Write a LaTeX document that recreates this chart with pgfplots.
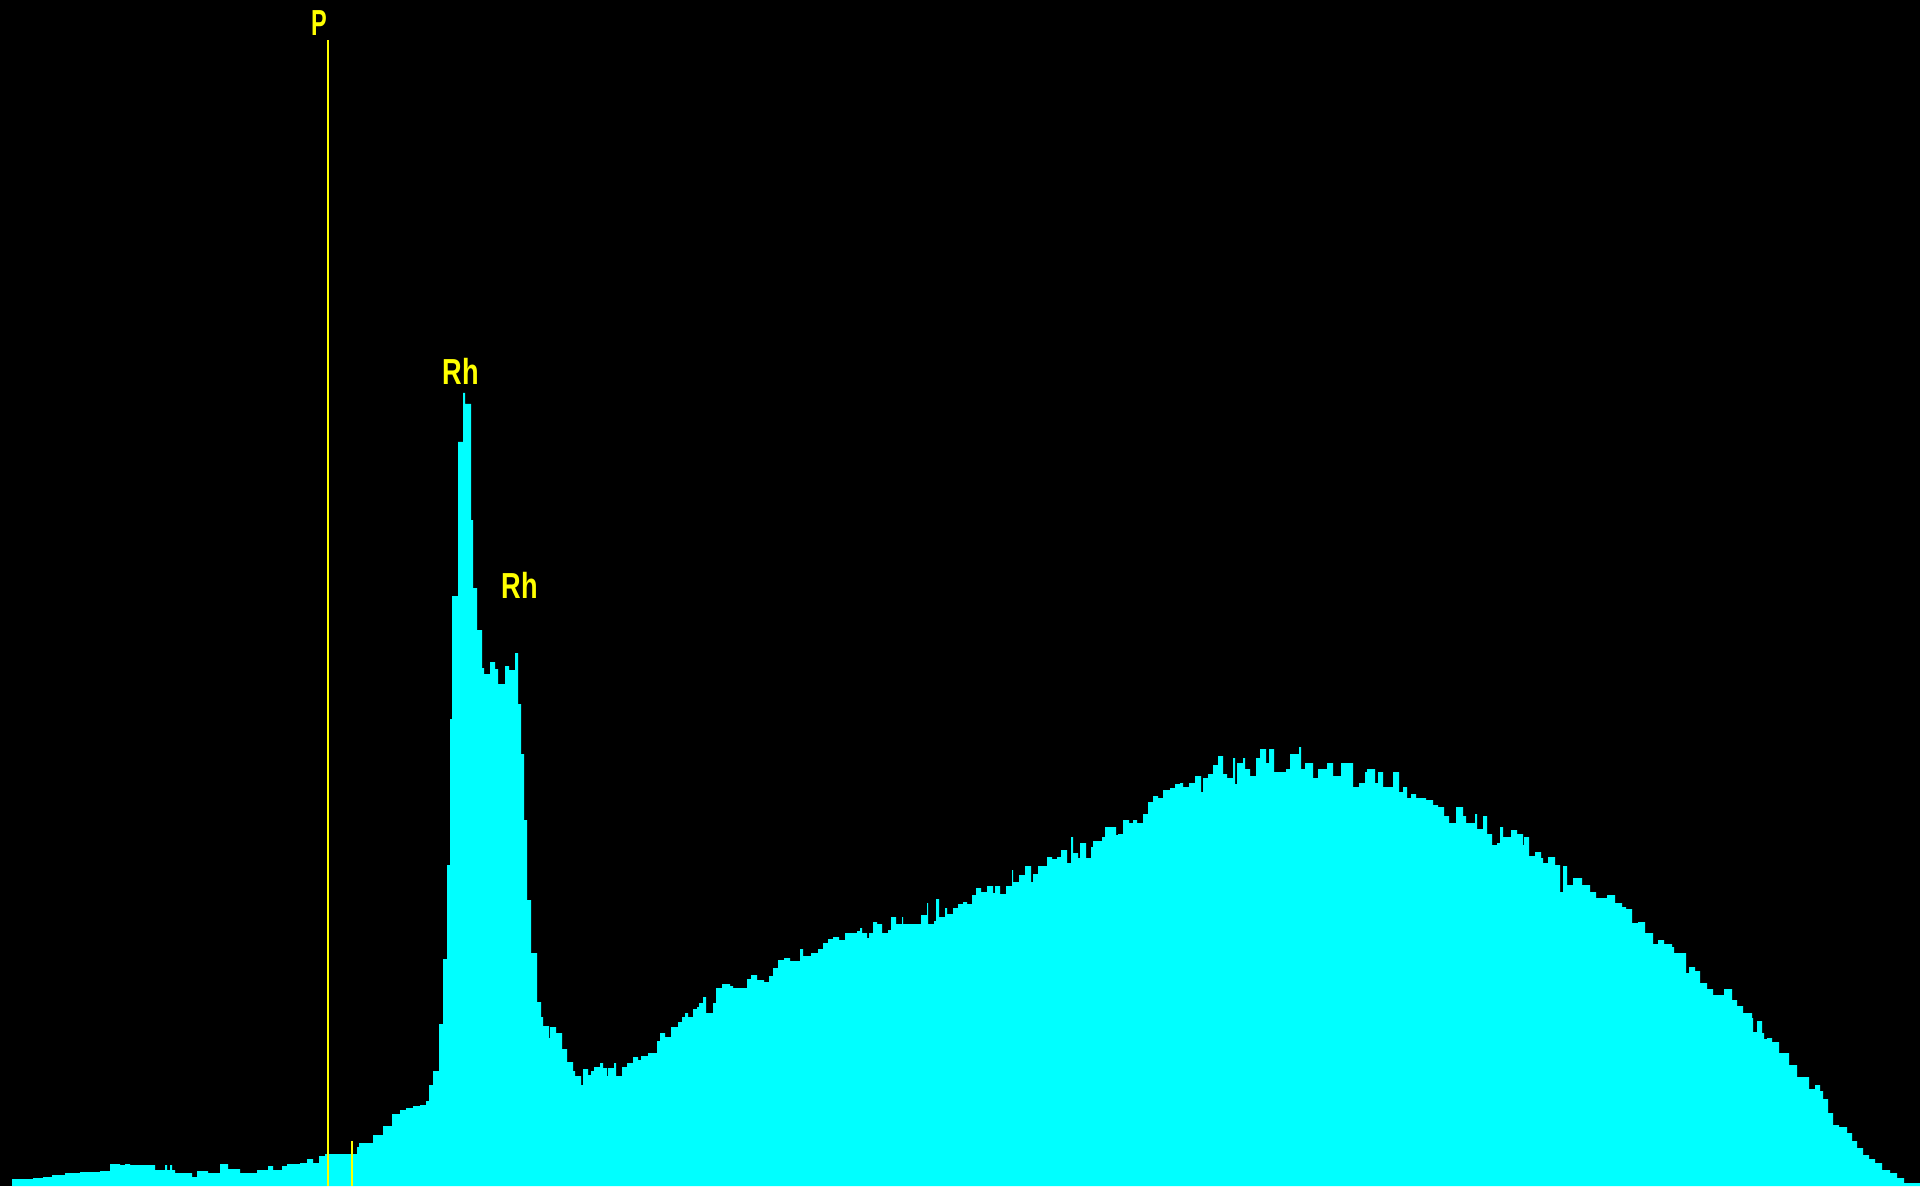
\documentclass[border=0pt]{standalone}
\usepackage{graphicx}
\usepackage{fontspec}
\setmainfont{Liberation Sans}
\usepackage{pgfplots}
\pgfplotsset{compat=1.18}

\definecolor{specfill}{rgb}{0,1,1}
\definecolor{marker}{rgb}{1,1,0}

\begin{document}
\begin{tikzpicture}
\begin{axis}[
  width=19.2cm, height=11.86cm, scale only axis,
  xmin=0, xmax=1920, ymin=0, ymax=1186,
  ticks=none,
  axis line style={draw=none},
  axis background/.style={fill=black},
  clip=true,
]
% spectrum (channel, counts), drawn as a filled step histogram
\addplot[const plot, fill=specfill, draw=none] coordinates {
(12,7)(33,8)(43,9)(52,11)(65,13)(80,14)(100,15)(110,22)(120,21)(125,22)(130,21)(155,16)(165,21)(167,16)(170,21)(172,16)(175,13)(192,9)(197,15)(208,13)(220,22)(228,17)(240,13)(257,16)(268,20)(273,16)(282,20)(287,22)(300,23)(307,27)(313,23)(319,30)(325,32)(357,39)(359,43)(373,51)(383,60)(392,72)(400,76)(406,78)(413,80)
(420,81)(426,85)(429,101)(433,115)(439,162)(443,227)(447,321)(450,467)(452,590)(458,744)(463,793)(465,782)(471,666)(473,598)(477,556)(482,518)(484,512)(490,524)(495,517)(498,502)(505,520)(509,516)(515,533)(518,482)(521,432)(524,366)(527,286)(531,233)(537,184)(541,169)(543,160)(549,148)(550,159)(556,153)(562,137)(567,124)(573,115)(575,110)(581,101)(583,117)(588,111)(591,115)(594,119)
(600,123)(603,118)(607,110)(608,118)(614,123)(616,110)(622,119)(627,123)(633,129)(638,126)(641,130)(648,133)(657,145)(660,153)(665,149)(671,159)(678,164)(682,169)(685,173)(688,169)(693,177)(697,179)(699,183)(703,189)(706,173)(713,183)(716,198)(722,202)(730,200)(733,198)(747,207)(751,211)(757,206)(764,204)(769,210)(773,218)(778,226)(784,228)(790,225)(800,237)(803,230)(811,233)(818,237)(823,243)(828,247)(833,249)(839,246)(845,253)(851,253)(857,255)
(860,258)(862,253)(867,248)(869,253)(873,264)(877,262)(882,253)(888,256)(891,269)(896,262)(902,269)(903,262)(921,271)(927,283)(928,262)(934,265)(936,287)(939,269)(945,278)(947,272)(953,278)(958,282)(963,284)(967,282)(972,291)(976,298)(981,294)(987,300)(993,293)(995,300)(1000,292)(1006,300)(1012,316)(1013,304)(1019,311)(1025,320)(1031,304)(1033,312)(1038,320)(1047,329)(1052,327)(1057,329)(1061,336)(1067,323)(1071,349)(1073,333)(1078,328)(1080,343)(1086,328)(1091,339)(1093,345)(1102,349)(1105,359)(1116,351)(1118,352)(1123,366)(1129,363)(1133,366)(1137,363)
(1143,372)(1148,384)(1153,390)(1158,388)(1163,396)(1170,398)(1175,402)(1180,403)(1183,399)(1189,403)(1195,410)(1201,394)(1203,408)(1208,412)(1213,421)(1218,430)(1223,412)(1227,408)(1233,428)(1235,402)(1237,423)(1243,428)(1245,417)(1250,410)(1256,428)(1260,437)(1266,423)(1269,437)(1274,414)(1286,417)(1290,432)(1299,439)(1301,417)(1305,423)(1313,408)(1318,417)(1327,423)(1333,410)(1341,423)(1353,399)(1359,403)(1365,414)(1367,417)(1375,403)(1378,414)(1383,399)(1393,414)(1399,394)(1403,399)(1407,388)(1411,392)(1416,388)(1426,386)(1433,381)(1438,379)(1444,370)(1449,363)(1456,379)(1463,370)(1466,363)(1475,372)(1477,357)(1483,370)(1487,352)(1492,341)(1497,343)(1500,359)(1503,349)
(1511,356)(1517,352)(1523,341)(1524,349)(1529,330)(1535,334)(1541,328)(1543,323)(1548,329)(1555,321)(1560,294)(1563,320)(1567,301)(1573,308)(1582,301)(1590,294)(1596,288)(1607,291)(1615,283)(1622,279)(1626,277)(1632,263)(1638,264)(1645,253)(1648,253)(1653,242)(1658,246)(1664,242)(1672,239)(1674,233)(1678,233)(1686,213)(1689,219)(1695,215)(1700,203)(1707,197)(1713,191)(1724,197)(1732,186)(1737,180)(1743,173)(1752,168)(1753,154)(1757,165)(1762,153)(1764,147)(1767,148)(1772,144)(1779,133)(1789,121)(1797,109)(1809,97)(1815,101)(1820,95)(1823,87)(1828,73)(1833,61)(1839,59)(1847,53)(1852,45)(1857,38)(1863,31)(1869,27)(1875,23)(1882,16)(1890,13)(1897,8)(1904,3)(1920,3)
} \closedcycle;

% element marker lines
\addplot[marker, line width=0.7pt] coordinates {(328,0)(328,1146)};
\addplot[marker, line width=0.55pt] coordinates {(352,0)(352,45)};

% element labels
\tikzset{elabel/.style={text=marker, inner sep=0pt, font=\fontsize{10.3}{12}\selectfont\bfseries}}
\node[elabel] at (axis cs:319,1163) {\scalebox{0.65}[1]{P}};
\node[elabel] at (axis cs:461,815) {\scalebox{0.75}[1]{Rh}};
\node[elabel] at (axis cs:520,601) {\scalebox{0.75}[1]{Rh}};
\end{axis}
\end{tikzpicture}
\end{document}
